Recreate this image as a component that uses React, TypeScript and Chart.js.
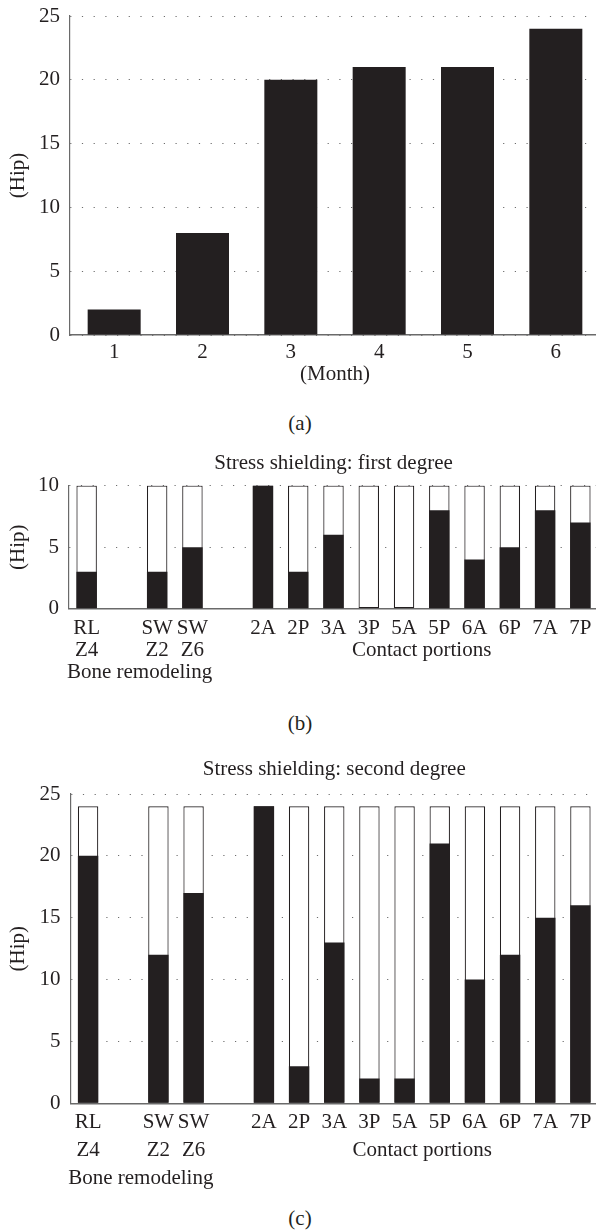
import { useEffect, useRef } from 'react';
import { Chart, registerables } from 'chart.js';

Chart.register(...registerables);

const FONT = "'Liberation Serif', 'Times New Roman', serif";
const INK = '#231f20';
const GRID = '#6d6d6d';
const FS = 21;

// ---- data (a) ----
const monthLabels = ['1', '2', '3', '4', '5', '6'];
const hipsPerMonth = [2, 8, 20, 21, 21, 24];

// ---- data (b) & (c) ----
const siteLabels: (string | string[])[] = [
  ['RL', 'Z4'], '', ['SW', 'Z2'], ['SW', 'Z6'], '',
  '2A', '2P', '3A', '3P', '5A', '5P', '6A', '6P', '7A', '7P',
];
const firstDegreeHips = [3, null, 3, 5, null, 10, 3, 6, 0, 0, 8, 4, 5, 8, 7];
const firstDegreeTotal = [10, null, 10, 10, null, 10, 10, 10, 10, 10, 10, 10, 10, 10, 10];
const secondDegreeHips = [20, null, 12, 17, null, 24, 3, 13, 2, 2, 21, 10, 12, 15, 16];
const secondDegreeTotal = [24, null, 24, 24, null, 24, 24, 24, 24, 24, 24, 24, 24, 24, 24];
const groupNames = ['Bone remodeling', 'Contact portions'];

const groupLabelPlugin = {
  id: 'groupLabels',
  afterDraw(chart: any, _args: any, opts: any) {
    if (!opts || !opts.groups) return;
    const xs = chart.scales.x;
    const ctx = chart.ctx;
    ctx.save();
    ctx.font = `${FS}px ${FONT}`;
    ctx.fillStyle = INK;
    ctx.textAlign = 'center';
    ctx.textBaseline = 'middle';
    for (const g of opts.groups) {
      const px = (xs.getPixelForValue(g.from) + xs.getPixelForValue(g.to)) / 2;
      const py = xs.top + opts.padding + opts.lineHeight * (g.line + 0.5);
      ctx.fillText(g.text, px, py);
    }
    ctx.restore();
  },
};

type Cfg = {
  yMax: number;
  yWidth: number;
  xHeight: number;
  tickPad: number;
  lineHeight: number;
  layoutTop: number;
  layoutRight: number;
  title?: string;
  titlePad?: { top: number; bottom: number };
  xTitle?: string;
};

function buildOptions(c: Cfg, groups?: any) {
  return {
    responsive: false,
    animation: false,
    events: [],
    layout: { padding: { top: c.layoutTop, right: c.layoutRight, left: 0, bottom: 0 } },
    plugins: {
      legend: { display: false },
      tooltip: { enabled: false },
      title: c.title
        ? {
            display: true,
            text: c.title,
            fullSize: false,
            color: INK,
            font: { family: FONT, size: FS, weight: 'normal', lineHeight: 1.2 },
            padding: c.titlePad,
          }
        : { display: false },
      groupLabels: groups,
    },
    scales: {
      x: {
        type: 'category',
        offset: true,
        grid: { display: false, drawTicks: false },
        border: { display: true, color: '#6a6a6a', width: 1.5 },
        ticks: {
          autoSkip: false,
          maxRotation: 0,
          minRotation: 0,
          padding: c.tickPad,
          color: INK,
          font: { family: FONT, size: FS, lineHeight: c.lineHeight / FS },
        },
        title: c.xTitle
          ? {
              display: true,
              text: c.xTitle,
              color: INK,
              font: { family: FONT, size: FS, lineHeight: 1.0 },
              padding: { top: 0, bottom: 0 },
            }
          : { display: false },
        afterFit: (s: any) => {
          s.height = c.xHeight;
          s.paddingLeft = 0;
          s.paddingRight = 0;
        },
      },
      y: {
        min: 0,
        max: c.yMax,
        grid: { display: true, drawTicks: false, color: GRID, lineWidth: 1 },
        border: { display: true, color: '#6a6a6a', width: 1.2, dash: [1.2, 10.5] },
        ticks: {
          stepSize: 5,
          padding: 10,
          color: INK,
          font: { family: FONT, size: FS, lineHeight: 1.2 },
        },
        title: {
          display: true,
          text: '(Hip)',
          color: INK,
          font: { family: FONT, size: FS, lineHeight: 1.2 },
          padding: { top: 5.5, bottom: 0 },
        },
        afterFit: (s: any) => {
          s.width = c.yWidth;
          s.paddingTop = 0;
          s.paddingBottom = 0;
        },
      },
    },
  } as any;
}

function stackedData(hips: (number | null)[], total: (number | null)[]) {
  return {
    labels: siteLabels,
    datasets: [
      {
        data: hips,
        backgroundColor: INK,
        borderWidth: 0,
        grouped: false,
        barPercentage: 0.58,
        categoryPercentage: 1,
      },
      {
        data: total,
        backgroundColor: '#ffffff',
        borderColor: INK,
        borderWidth: 1.2,
        borderSkipped: false,
        grouped: false,
        barPercentage: 0.58,
        categoryPercentage: 1,
      },
    ],
  } as any;
}

export default function App() {
  const refA = useRef<HTMLCanvasElement>(null);
  const refB = useRef<HTMLCanvasElement>(null);
  const refC = useRef<HTMLCanvasElement>(null);

  useEffect(() => {
    const charts: Chart[] = [];
    charts.push(
      new Chart(refA.current!, {
        type: 'bar',
        data: {
          labels: monthLabels,
          datasets: [
            {
              data: hipsPerMonth,
              backgroundColor: INK,
              borderWidth: 0,
              barPercentage: 0.6,
              categoryPercentage: 1,
            },
          ],
        },
        options: buildOptions({
          yMax: 25,
          yWidth: 70,
          xHeight: 50,
          tickPad: 6.2,
          lineHeight: 21.6,
          layoutTop: 16,
          layoutRight: 0,
          xTitle: '(Month)',
        }),
      } as any)
    );
    charts.push(
      new Chart(refB.current!, {
        type: 'bar',
        data: stackedData(firstDegreeHips, firstDegreeTotal),
        options: buildOptions(
          {
            yMax: 10,
            yWidth: 69,
            xHeight: 91.2,
            tickPad: 9,
            lineHeight: 21.8,
            layoutTop: 0,
            layoutRight: 2,
            title: 'Stress shielding: first degree',
            titlePad: { top: 10.4, bottom: 9.9 },
          },
          {
            padding: 9,
            lineHeight: 21.8,
            groups: [
              { from: 0, to: 3, line: 2, text: groupNames[0] },
              { from: 5, to: 14, line: 1, text: groupNames[1] },
            ],
          }
        ),
        plugins: [groupLabelPlugin],
      } as any)
    );
    charts.push(
      new Chart(refC.current!, {
        type: 'bar',
        data: stackedData(secondDegreeHips, secondDegreeTotal),
        options: buildOptions(
          {
            yMax: 25,
            yWidth: 70.5,
            xHeight: 96.7,
            tickPad: 4.7,
            lineHeight: 28,
            layoutTop: 0,
            layoutRight: 2,
            title: 'Stress shielding: second degree',
            titlePad: { top: 16.4, bottom: 12.4 },
          },
          {
            padding: 4.7,
            lineHeight: 28,
            groups: [
              { from: 0, to: 3, line: 2, text: groupNames[0] },
              { from: 5, to: 14, line: 1, text: groupNames[1] },
            ],
          }
        ),
        plugins: [groupLabelPlugin],
      } as any)
    );
    return () => charts.forEach((c) => c.destroy());
  }, []);

  const caption = (text: string, y: number) => (
    <div
      style={{
        position: 'absolute',
        left: 250,
        top: y - 12,
        width: 100,
        height: 24,
        lineHeight: '24px',
        textAlign: 'center',
        fontFamily: FONT,
        fontSize: FS,
        color: INK,
      }}
    >
      {text}
    </div>
  );

  return (
    <div
      style={{
        position: 'absolute',
        left: 0,
        top: 0,
        width: 596,
        height: 1232,
        overflow: 'hidden',
        background: '#ffffff',
      }}
    >
      <canvas ref={refA} width={600} height={385} style={{ position: 'absolute', left: 0, top: 0 }} />
      {caption('(a)', 423)}
      <canvas ref={refB} width={600} height={260} style={{ position: 'absolute', left: 0, top: 440 }} />
      {caption('(b)', 723)}
      <canvas ref={refC} width={600} height={460} style={{ position: 'absolute', left: 0, top: 740 }} />
      {caption('(c)', 1218)}
    </div>
  );
}
